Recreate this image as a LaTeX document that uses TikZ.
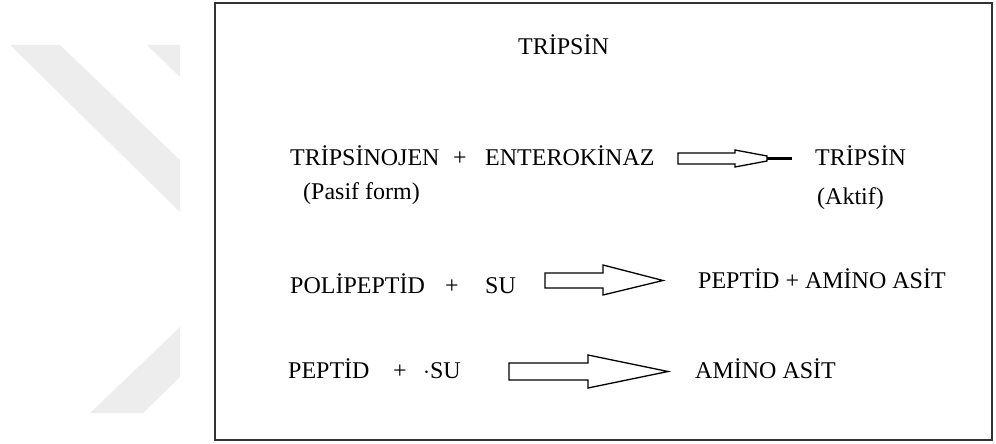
\documentclass[tikz,border=0pt]{standalone}
\usepackage{fontspec}
\setmainfont{Liberation Serif}
\begin{document}
\begin{tikzpicture}[x=1pt,y=-1pt,
  txt/.style={inner sep=0pt, anchor=base west, font=\fontsize{24}{28}\selectfont},
  plus/.style={inner sep=0pt, anchor=base, font=\fontsize{24}{28}\selectfont},
  blockarrow/.style={draw=black, line width=1.3pt, fill=white, line join=miter},
  wm/.style={fill=black!7, draw=none},
  frame/.style={draw=black!80, line width=2pt}]
\useasboundingbox (0,0) rectangle (996,444);
% watermark
\fill[wm] (10,45) -- (60,45) -- (180,160) -- (180,212) -- cycle;
\fill[wm] (147,45) -- (180,45) -- (180,77) -- cycle;
\fill[wm] (90,413) -- (143,413) -- (180,377) -- (180,327) -- cycle;
% frame
\draw[frame] (215,3) rectangle (992,440);
% title
\node[txt] (title) at (518,55) {TRİPSİN};
% row 1
\node[txt] (tripsinojen) at (290,165) {TRİPSİNOJEN};
\node[plus] (p1) at (460,165) {+};
\node[txt] (enterokinaz) at (485,165) {ENTEROKİNAZ};
\node[txt] (pasif) at (303,199) {(Pasif form)};
\node[txt] (tripsin) at (815,165) {TRİPSİN};
\node[txt] (aktif) at (817,204) {(Aktif)};
\draw[blockarrow] (678,153) -- (735,153) -- (735,150) -- (767,156) -- (767,161) -- (735,167) -- (735,164) -- (678,164) -- cycle;
\draw[black, line width=3pt] (767,158.5) -- (792,158.5);
% row 2
\node[txt] (polipeptid) at (290,293) {POLİPEPTİD};
\node[plus] (p2) at (452,293) {+};
\node[txt] (su1) at (485,293) {SU};
\node[txt] (peptidamino) at (698,288) {PEPTİD + AMİNO ASİT};
\draw[blockarrow] (545,273) -- (603,273) -- (603,265) -- (663,280.5) -- (603,295) -- (603,288) -- (545,288) -- cycle;
% row 3
\node[txt] (peptid) at (288,378) {PEPTİD};
\node[plus] (p3) at (400,378) {+};
\node[txt] (su2) at (423,378) {$\cdot$SU};
\node[txt] (aminoasit) at (695,378) {AMİNO ASİT};
\draw[blockarrow] (509,363) -- (588,363) -- (588,355) -- (668,371.5) -- (588,388) -- (588,380) -- (509,380) -- cycle;
\end{tikzpicture}
\end{document}
